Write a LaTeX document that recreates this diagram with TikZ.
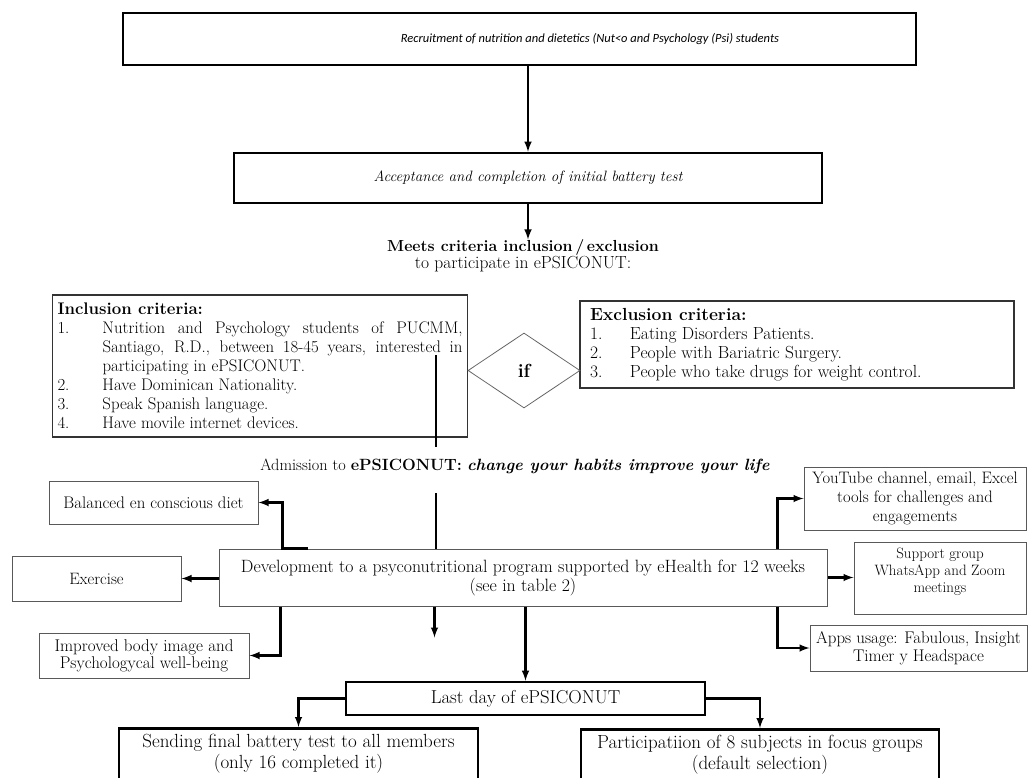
\documentclass[tikz,border=0pt]{standalone}
\usepackage{fontspec}
\newfontfamily\calibri{Carlito}
\usetikzlibrary{shapes.geometric}

\hbadness = 10000

\newcommand{\incitem}[2]{\par\noindent\hangindent = 45pt\hangafter = 1\makebox[45pt][l]{#1}#2\par}
\newcommand{\excitem}[2]{\par\noindent\hangindent = 40pt\hangafter = 1\makebox[40pt][l]{#1}#2\par}

\begin{document}
\begin{tikzpicture}[> = latex, x = 1pt, y = -1pt,
	every node/.style = {font = \fontsize{17.5}{19}\selectfont},
	mainbox/.style = {draw, line width = 2.6pt, inner sep = 0, align = center},
	sidebox/.style = {draw = black!65, line width = 1pt, inner sep = 0, align = center},
	critbox/.style = {draw = black!80, line width = 1.2pt, inner ysep = 0, align = justify},
	link/.style = {line width = 2.4pt}]

	% Page frame
	
	\useasboundingbox (0, 0) rectangle (1029, 778);
	\clip (0, 0) rectangle (1029, 778);
	\fill [white] (0, 0) rectangle (1029, 778);
	
	% Upper boxes
	
	\node [mainbox, minimum width = 793, minimum height = 52, font = \calibri\itshape\fontsize{12.5}{14}\selectfont] (recruit) at (519.5, 39) {\hspace*{141pt}Recruitment of nutrition and dietetics (Nut<o and Psychology (Psi) students};
	\node [mainbox, minimum width = 588, minimum height = 50, font = \itshape\fontsize{15}{17}\selectfont] (accept) at (528, 178) {Acceptance and completion of initial battery test};
	\node [align = center, inner sep = 0, font = \fontsize{17.5}{16}\selectfont] (meets) at (523, 256) {\textbf{\fontsize{16}{16}\selectfont Meets criteria inclusion\,/\,exclusion}\\to participate in ePSICONUT:};
	
	% Criteria
	
	\node [critbox, text width = 405pt, inner xsep = 5pt, minimum height = 142, font = \fontsize{16.8}{19}\selectfont] (incl) at (260, 366) {\textbf{Inclusion criteria:}
		\incitem{1.}{Nutrition and Psychology students of PUCMM,\linebreak Santiago, R.D., between \mbox{18-45} years, interested in\linebreak participating in ePSICONUT.}
		\incitem{2.}{Have Dominican Nationality.}
		\incitem{3.}{Speak Spanish language.}
		\incitem{4.}{Have movile internet devices.}};
	\node [critbox, text width = 414pt, inner xsep = 10pt, minimum height = 87] (excl) at (797, 344.5) {\textbf{Exclusion criteria:}
		\excitem{1.}{Eating Disorders Patients.}
		\excitem{2.}{People with Bariatric Surgery.}
		\excitem{3.}{People who take drugs for weight control.}};
	\node [diamond, draw = black!60, line width = 0.8pt, minimum width = 112, minimum height = 75, inner sep = 0, font = \bfseries\fontsize{19}{19}\selectfont] (cond) at (524, 370.5) {if};
	
	\node [inner sep = 0, font = \fontsize{16.3}{19}\selectfont] (admit) at (515, 466) {Admission to \textbf{ePSICONUT:} \textbf{\itshape change your habits improve your life}};
	
	% Program and its parts
	
	\node [sidebox, minimum width = 608, minimum height = 57, font = \fontsize{17.8}{19}\selectfont] (prog) at (523, 577.5) {Development to a psyconutritional program supported by eHealth for 12 weeks\\(see in table 2)};
	\node [sidebox, minimum width = 209, minimum height = 43, font = \fontsize{16.8}{19}\selectfont] (diet) at (153.5, 502.5) {Balanced en conscious diet};
	\node [sidebox, minimum width = 169, minimum height = 45, font = \fontsize{16.5}{19}\selectfont] (exer) at (96.5, 578.5) {Exercise};
	\node [sidebox, minimum width = 210, minimum height = 45, font = \fontsize{17}{17}\selectfont] (image) at (144, 655.5) {Improved body image and\\Psychologycal well-being};
	\node [sidebox, minimum width = 222, minimum height = 63, font = \fontsize{16.6}{19}\selectfont] (tools) at (915, 498.5) {YouTube channel, email, Excel\\tools for challenges and\\engagements};
	\node [sidebox, minimum width = 172, anchor = north, inner ysep = 4pt, font = \fontsize{15}{17}\selectfont] (group) at (940, 542) {\begin{tabular}{@{}c@{}}Support group\\WhatsApp and Zoom\\meetings\\[13pt]\end{tabular}};
	\node [sidebox, minimum width = 217, minimum height = 46, font = \fontsize{16.9}{18}\selectfont] (apps) at (918.5, 648) {Apps usage: Fabulous, Insight\\Timer y Headspace};
	
	% Closing stage
	
	\node [mainbox, minimum width = 359, minimum height = 33, font = \fontsize{18.7}{21}\selectfont] (last) at (525.5, 698.5) {Last day of ePSICONUT};
	\node [mainbox, minimum width = 359, anchor = north, inner ysep = 4pt, font = \fontsize{19}{21}\selectfont] (send) at (298.5, 727) {\begin{tabular}{@{}c@{}}Sending final battery test to all members\\(only 16 completed it)\\[30pt]\end{tabular}};
	\node [mainbox, minimum width = 358, anchor = north, inner ysep = 4pt, font = \fontsize{19}{21}\selectfont] (focus) at (760, 728) {\begin{tabular}{@{}c@{}}Participatiion of 8 subjects in focus groups\\(default selection)\\[30pt]\end{tabular}};
	
	% Connectors
	
	\draw [link, ->] (recruit.south -| accept.north) -- (accept.north);
	\draw [link, ->] (accept.south) -- (accept.south |- meets.north);
	
	\coordinate (spine) at (436, 355);
	\coordinate (spine gap) at (436, 447);
	\coordinate (spine back) at (436, 493);
	\draw [link] (spine) -- (spine gap);
	\draw [link] (spine back) -- (spine back |- prog.north);
	\draw [link, ->] (prog.south west) ++ (216, 0) -- ++ (0, 31);
	\draw [link, ->] (prog.south -| last.north) -- (last.north);
	
	\draw [link, ->] (prog.north west) ++ (89, 0) -- ++ (-25, 0) |- (diet.east);
	\draw [link, ->] (prog.west |- exer.east) -- (exer.east);
	\draw [link, ->] (prog.south west) ++ (62, 0) |- (image.east);
	\draw [link, ->] (prog.north east) ++ (-50, 0) |- (tools.west);
	\draw [link, ->] (prog.east) -- (prog.east -| group.west);
	\draw [link, ->] (prog.south east) ++ (-50, 0) |- (apps.west);
	
	\draw [link, ->] (last.west) -| (send.north);
	\draw [link, ->] (last.east) -| (focus.north);
	
\end{tikzpicture}
\end{document}
